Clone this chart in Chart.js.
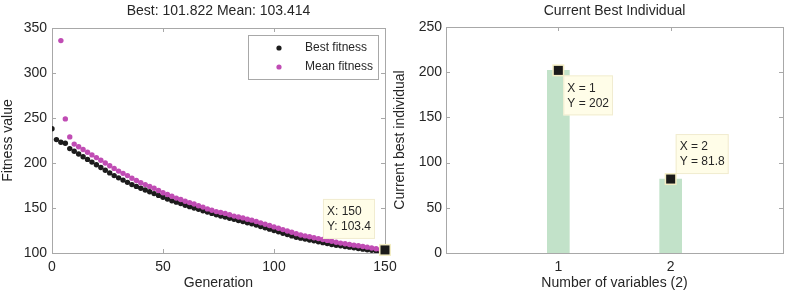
<!DOCTYPE html>
<html>
<head>
<meta charset="utf-8">
<script src="https://cdn.jsdelivr.net/npm/chart.js@4"></script>
<style>
html, body { margin: 0; padding: 0; background: #fff; }
#wrap { position: relative; width: 786px; height: 295px; overflow: hidden; }
#fitnessChart { position: absolute; left: 0; top: 0; }
#individualChart { position: absolute; left: 392px; top: 0; }
</style>
</head>
<body>
<div id="wrap">
  <canvas id="fitnessChart" width="400" height="295"></canvas>
  <canvas id="individualChart" width="394" height="295"></canvas>
</div>
<script>
// ========== DATOS ==========
const generaciones = [0, 2, 4, 6, 8, 10, 12, 14, 16, 18, 20, 22, 24, 26, 28, 30, 32, 34, 36, 38,
    40, 42, 44, 46, 48, 50, 52, 54, 56, 58, 60, 62, 64, 66, 68, 70, 72, 74, 76, 78,
    80, 82, 84, 86, 88, 90, 92, 94, 96, 98, 100, 102, 104, 106, 108, 110, 112, 114, 116, 118,
    120, 122, 124, 126, 128, 130, 132, 134, 136, 138, 140, 142, 144, 146, 148, 150];

const mejorFitness = [238, 226, 223, 222, 216, 213, 210, 207, 204, 201, 198, 195, 192, 189, 186, 183.5, 181, 178.5, 176, 174,
    172, 170, 168, 166, 164, 162, 160, 158, 156.5, 155, 153, 151.5, 150, 148.5, 147, 145.5, 144, 142.5, 141, 140,
    138.5, 137.5, 136, 135, 133.5, 132.5, 131, 129.5, 128, 126.5, 125, 123.5, 122, 120.5, 119, 117.5, 116.5, 115.5, 114.5, 113.5,
    112.5, 111.5, 110.5, 109.5, 108.5, 108, 107.2, 106.5, 105.8, 105, 104.3, 103.6, 103, 102.4, 102, 101.822];

const mediaFitness = [null, null, 336, 249, 229, 221, 218, 215, 212, 209, 206, 203, 200, 197, 194, 191, 188.5, 186, 183, 180.5,
    178, 176, 174, 172, 169.5, 167, 165, 163, 161, 159.5, 157.5, 156, 154.5, 152.5, 151, 149, 147.5, 146, 145, 144,
    142.5, 141, 140, 139, 137.5, 136.5, 135, 133.5, 132, 130.5, 129, 127.5, 126, 124.5, 123, 121.5, 120, 119, 118, 117,
    116, 115, 114, 113, 112, 111, 110.2, 109.5, 108.7, 108, 107.2, 106.5, 105.6, 104.8, 104, 103.414];

const variables = [1, 2];
const mejorIndividuo = [202, 81.8];

const ticksGeneracion = [0, 50, 100, 150];
const ticksFitness = [100, 150, 200, 250, 300, 350];
const ticksIndividuo = [0, 50, 100, 150, 200, 250];

// ========== ESTILO ==========
const FUENTE = "'Liberation Sans', Arial, sans-serif";
const COLOR_TEXTO = '#262626';
const COLOR_EJE = '#a8a8a8';

// Caja tipo MATLAB con marcas hacia dentro y título centrado sobre el área
const marcoEjes = {
    id: 'marcoEjes',
    beforeDatasetsDraw(chart, args, opts) {
        const { ctx, chartArea: a, scales } = chart;
        ctx.save();
        ctx.strokeStyle = COLOR_EJE;
        ctx.lineWidth = 1;
        ctx.strokeRect(Math.round(a.left) + 0.5, Math.round(a.top) + 0.5,
            Math.round(a.right - a.left), Math.round(a.bottom - a.top));
        const largo = 4;
        ctx.beginPath();
        scales.x.ticks.forEach(t => {
            const px = Math.round(scales.x.getPixelForValue(t.value)) + 0.5;
            ctx.moveTo(px, a.bottom); ctx.lineTo(px, a.bottom - largo);
            ctx.moveTo(px, a.top); ctx.lineTo(px, a.top + largo);
        });
        scales.y.ticks.forEach(t => {
            const py = Math.round(scales.y.getPixelForValue(t.value)) + 0.5;
            ctx.moveTo(a.left, py); ctx.lineTo(a.left + largo, py);
            ctx.moveTo(a.right, py); ctx.lineTo(a.right - largo, py);
        });
        ctx.stroke();
        // título
        ctx.fillStyle = COLOR_TEXTO;
        ctx.font = '14px ' + FUENTE;
        ctx.textAlign = 'center';
        ctx.textBaseline = 'middle';
        ctx.fillText(opts.titulo, (a.left + a.right) / 2, 11.5);
        ctx.restore();
    }
};

function dibujarDatatip(ctx, px, py, lineas, caja) {
    ctx.save();
    ctx.font = '12px ' + FUENTE;
    const ancho = Math.max(...lineas.map(l => ctx.measureText(l).width)) + 8;
    const alto = 40;
    let x0 = caja.lado === 'izq' ? px - caja.dx - ancho : px + caja.dx;
    let y0 = caja.vert === 'arriba' ? py - caja.dy - alto : py + caja.dy;
    ctx.fillStyle = '#fffde8';
    ctx.strokeStyle = '#f1ecd0';
    ctx.fillRect(x0, y0, ancho, alto);
    ctx.strokeRect(x0 + 0.5, y0 + 0.5, ancho - 1, alto - 1);
    ctx.fillStyle = COLOR_TEXTO;
    ctx.textBaseline = 'middle';
    ctx.textAlign = 'left';
    lineas.forEach((l, i) => ctx.fillText(l, x0 + 4, y0 + 13 + i * 15));
    // marcador
    ctx.fillStyle = '#f3edc4';
    ctx.fillRect(px - 6, py - 6, 12, 12);
    ctx.fillStyle = '#1a1a1a';
    ctx.fillRect(px - 4.5, py - 4.5, 9, 9);
    ctx.restore();
}

const leyendaFitness = {
    id: 'leyendaFitness',
    afterDatasetsDraw(chart) {
        const { ctx, chartArea: a } = chart;
        const x0 = a.right - 137, y0 = a.top + 7, w = 130, h = 44;
        ctx.save();
        ctx.fillStyle = '#fff';
        ctx.strokeStyle = COLOR_EJE;
        ctx.fillRect(x0, y0, w, h);
        ctx.strokeRect(Math.round(x0) + 0.5, Math.round(y0) + 0.5, w, h);
        ctx.font = '12px ' + FUENTE;
        ctx.textBaseline = 'middle';
        chart.data.datasets.forEach((ds, i) => {
            const y = y0 + 13 + i * 19;
            ctx.fillStyle = ds.backgroundColor;
            ctx.beginPath();
            ctx.arc(x0 + 31, y, 2.6, 0, Math.PI * 2);
            ctx.fill();
            ctx.fillStyle = COLOR_TEXTO;
            ctx.fillText(ds.label, x0 + 57, y);
        });
        ctx.restore();
    },
    afterDraw(chart) {
        const ult = generaciones.length - 1;
        const px = chart.scales.x.getPixelForValue(generaciones[ult]);
        const py = chart.scales.y.getPixelForValue(mediaFitness[ult]);
        dibujarDatatip(chart.ctx, px, py,
            ['X: ' + generaciones[ult], 'Y: ' + mediaFitness[ult].toFixed(1)],
            { lado: 'izq', dx: 10, vert: 'arriba', dy: 11 });
    }
};

const datatipsIndividuo = {
    id: 'datatipsIndividuo',
    afterDraw(chart) {
        variables.forEach((v, i) => {
            const px = chart.scales.x.getPixelForValue(v);
            const py = chart.scales.y.getPixelForValue(mejorIndividuo[i]);
            dibujarDatatip(chart.ctx, px, py,
                ['X = ' + v, 'Y = ' + mejorIndividuo[i]],
                i === 0 ? { lado: 'der', dx: 5, vert: 'abajo', dy: 5 }
                        : { lado: 'der', dx: 5, vert: 'arriba', dy: 5 });
        });
    }
};

function fijarAncho(ancho) { return s => { s.width = ancho; }; }
function fijarAlto(alto) {
    return s => { s.height = alto; s.paddingLeft = 0; s.paddingRight = 0; };
}

// ========== GRÁFICO IZQUIERDO ==========
const puntosMejor = generaciones.map((g, i) => ({ x: g, y: mejorFitness[i] }));
const puntosMedia = generaciones.map((g, i) => ({ x: g, y: mediaFitness[i] }));

new Chart(document.getElementById('fitnessChart').getContext('2d'), {
    type: 'scatter',
    data: {
        datasets: [{
            label: 'Best fitness',
            data: puntosMejor,
            backgroundColor: '#1c1c1c',
            borderWidth: 0,
            pointRadius: 2.7,
            order: 2
        }, {
            label: 'Mean fitness',
            data: puntosMedia,
            backgroundColor: '#c04cb4',
            borderWidth: 0,
            pointRadius: 2.7,
            order: 1
        }]
    },
    options: {
        responsive: false,
        animation: false,
        layout: { padding: { left: 0, right: 15, top: 28, bottom: 0 } },
        plugins: {
            legend: { display: false },
            tooltip: { enabled: false },
            title: { display: false },
            marcoEjes: { titulo: 'Best: 101.822 Mean: 103.414' }
        },
        scales: {
            x: {
                type: 'linear', min: 0, max: 150,
                afterBuildTicks: s => { s.ticks = ticksGeneracion.map(v => ({ value: v })); },
                afterFit: fijarAlto(42),
                grid: { display: false, drawTicks: false },
                border: { display: false },
                ticks: { color: COLOR_TEXTO, font: { family: FUENTE, size: 14 }, padding: 6, maxRotation: 0 },
                title: { display: true, text: 'Generation', color: COLOR_TEXTO,
                         font: { family: FUENTE, size: 14 }, padding: { top: 0, bottom: 3 } }
            },
            y: {
                min: 100, max: 350,
                afterBuildTicks: s => { s.ticks = ticksFitness.map(v => ({ value: v })); },
                afterFit: fijarAncho(52),
                grid: { display: false, drawTicks: false },
                border: { display: false },
                ticks: { color: COLOR_TEXTO, font: { family: FUENTE, size: 14 }, padding: 5 },
                title: { display: true, text: 'Fitness value', color: COLOR_TEXTO,
                         font: { family: FUENTE, size: 14 }, padding: 0 }
            }
        }
    },
    plugins: [marcoEjes, leyendaFitness]
});

// ========== GRÁFICO DERECHO ==========
new Chart(document.getElementById('individualChart').getContext('2d'), {
    type: 'bar',
    data: {
        datasets: [{
            label: 'Current best individual',
            data: variables.map((v, i) => ({ x: v, y: mejorIndividuo[i] })),
            backgroundColor: '#c2e2c9',
            borderWidth: 0,
            barThickness: 22
        }]
    },
    options: {
        responsive: false,
        animation: false,
        layout: { padding: { left: 0, right: 3, top: 27, bottom: 0 } },
        plugins: {
            legend: { display: false },
            tooltip: { enabled: false },
            title: { display: false },
            marcoEjes: { titulo: 'Current Best Individual' }
        },
        scales: {
            x: {
                type: 'linear', min: 0, max: 3, offset: false,
                afterBuildTicks: s => { s.ticks = variables.map(v => ({ value: v })); },
                afterFit: fijarAlto(42),
                grid: { display: false, offset: false, drawTicks: false },
                border: { display: false },
                ticks: { color: COLOR_TEXTO, font: { family: FUENTE, size: 14 }, padding: 6, maxRotation: 0 },
                title: { display: true, text: 'Number of variables (2)', color: COLOR_TEXTO,
                         font: { family: FUENTE, size: 14 }, padding: { top: 0, bottom: 3 } }
            },
            y: {
                min: 0, max: 250,
                afterBuildTicks: s => { s.ticks = ticksIndividuo.map(v => ({ value: v })); },
                afterFit: fijarAncho(54),
                grid: { display: false, drawTicks: false },
                border: { display: false },
                ticks: { color: COLOR_TEXTO, font: { family: FUENTE, size: 14 }, padding: 4 },
                title: { display: true, text: 'Current best individual', color: COLOR_TEXTO,
                         font: { family: FUENTE, size: 14 }, padding: 0 }
            }
        }
    },
    plugins: [marcoEjes, datatipsIndividuo]
});
</script>
</body>
</html>
